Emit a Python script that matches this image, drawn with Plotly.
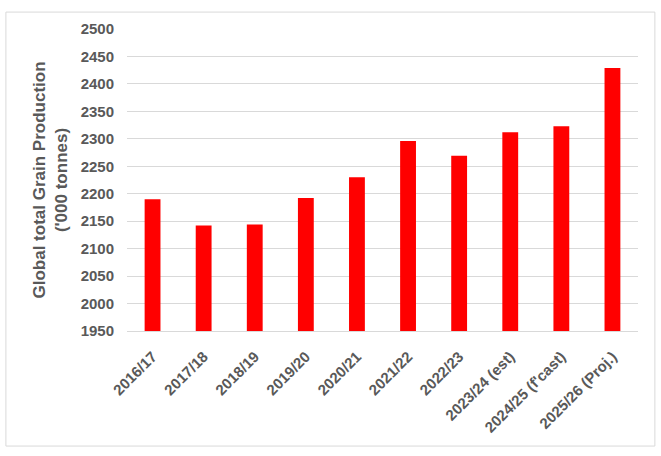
import plotly.graph_objects as go

seasons = [
    "2016/17", "2017/18", "2018/19", "2019/20", "2020/21",
    "2021/22", "2022/23", "2023/24 (est)", "2024/25 (f'cast)", "2025/26 (Proj.)",
]
production = [2190, 2142, 2144, 2192, 2230, 2296, 2269, 2312, 2323, 2429]

font_family = "Liberation Sans, Arial, sans-serif"
grey = "#595959"

fig = go.Figure()
fig.add_trace(
    go.Bar(
        x=seasons,
        y=production,
        marker=dict(color="#ff0000", line_width=0),
        width=0.31,
    )
)

# outer chart border
fig.add_shape(
    type="rect",
    xref="paper",
    yref="paper",
    x0=-0.237,
    x1=1.033,
    y0=-0.381,
    y1=1.056,
    line=dict(color="#d9d9d9", width=1),
    fillcolor="rgba(0,0,0,0)",
    layer="below",
)

fig.update_layout(
    width=661,
    height=456,
    paper_bgcolor="white",
    plot_bgcolor="white",
    showlegend=False,
    margin=dict(l=127, r=23, t=29, b=125),
    font=dict(family=font_family, color=grey),
)
fig.update_xaxes(
    tickangle=-45,
    tickfont=dict(size=15, family=font_family, color=grey, weight="bold"),
    ticklabelstandoff=10,
    showline=True,
    linecolor="#d9d9d9",
    linewidth=1,
    ticks="",
)
fig.update_yaxes(
    range=[1950, 2500],
    dtick=50,
    showgrid=True,
    gridcolor="#d9d9d9",
    gridwidth=1,
    zeroline=False,
    tickfont=dict(size=15, family=font_family, color=grey, weight="bold"),
    ticklabelstandoff=12,
    title=dict(
        text="Global total Grain Production<br>('000 tonnes)",
        font=dict(size=17, family=font_family, color=grey, weight="bold"),
        standoff=8,
    ),
)

# drop the default body margin so the figure sits at the window's corner
fig.write_html(
    "out.html",
    config={"displayModeBar": False},
    post_script="document.body.style.margin = '0';",
)
